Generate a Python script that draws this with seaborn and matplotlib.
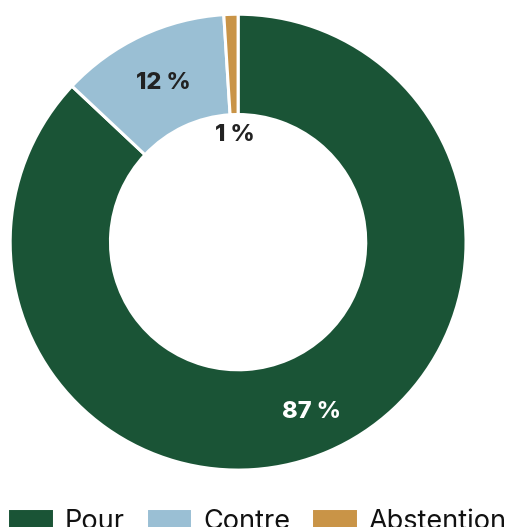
import numpy as np
import matplotlib
matplotlib.use("Agg")
import matplotlib.pyplot as plt
import seaborn as sns

# data
labels = ["Pour", "Contre", "Abstention"]
values = [87, 12, 1]
colors = ["#1a5436", "#9abfd4", "#c99447"]

sns.set_theme(style="white")
plt.rcParams["font.family"] = ["Inter", "DejaVu Sans"]

fig = plt.figure(figsize=(5.08, 5.27), dpi=100)
ax = fig.add_axes([0.0197, 0.108, 0.898, 0.865])

palette = sns.color_palette(colors)
wedges, _ = ax.pie(
    values,
    colors=palette,
    startangle=90,
    counterclock=False,
    radius=1.0,
    wedgeprops=dict(width=0.44, edgecolor="white", linewidth=2.2),
)
ax.set_aspect("equal")
ax.set_xlim(-1, 1)
ax.set_ylim(-1, 1)

# label positions (fraction of radius) and text colours
label_r = [0.81, 0.77, 0.47]
label_c = ["white", "#222222", "#222222"]
for w, v, r, c in zip(wedges, values, label_r, label_c):
    ang = np.deg2rad((w.theta1 + w.theta2) / 2)
    ax.text(r * np.cos(ang), r * np.sin(ang), f"{v} %", ha="center", va="center",
            fontsize=17, fontweight="heavy", color=c)

leg = fig.legend(
    wedges, labels, loc="lower left", bbox_to_anchor=(0.014, -0.016),
    ncol=3, frameon=False, fontsize=19.5, handlelength=1.72, handleheight=1.0,
    handletextpad=0.4, columnspacing=0.78, borderaxespad=0, borderpad=0,
)
for t in leg.get_texts():
    t.set_color("#111111")

fig.savefig("out.png", dpi=100)
